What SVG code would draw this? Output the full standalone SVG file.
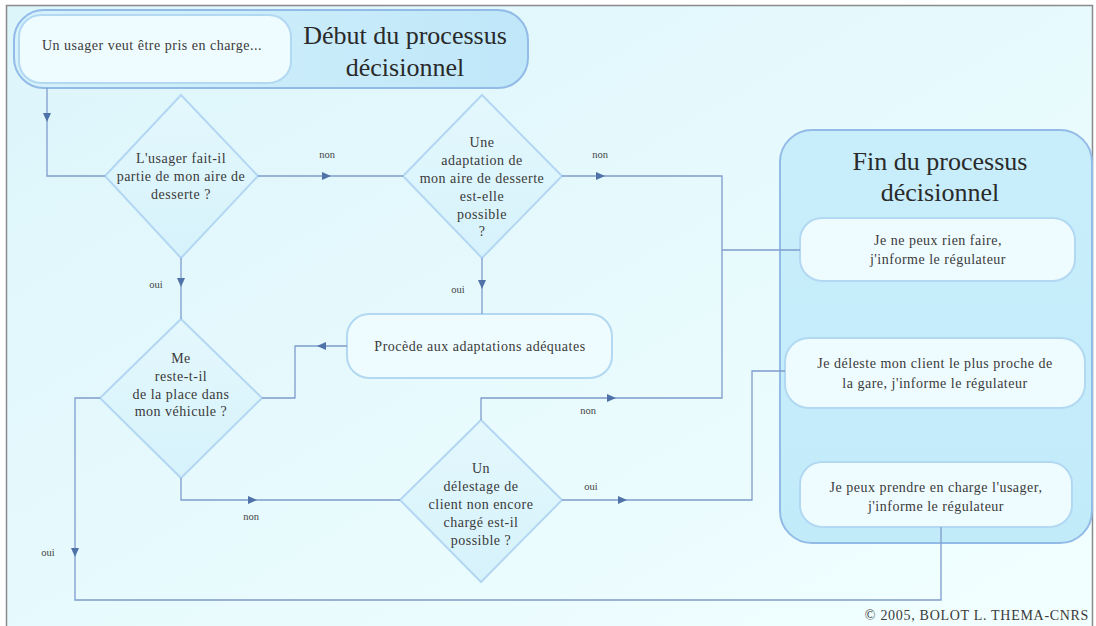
<svg xmlns="http://www.w3.org/2000/svg" width="1096" height="626" viewBox="0 0 1096 626">
  <defs>
    <linearGradient id="bg" x1="0" y1="0" x2="1" y2="1">
      <stop offset="0" stop-color="#dcf5fb"/>
      <stop offset="1" stop-color="#f2ffff"/>
    </linearGradient>
    <linearGradient id="panel" x1="0" y1="0" x2="1" y2="0">
      <stop offset="0" stop-color="#d6f2fb"/>
      <stop offset="1" stop-color="#bfe7f9"/>
    </linearGradient>
    <linearGradient id="panelV" x1="0" y1="0" x2="0" y2="1">
      <stop offset="0" stop-color="#c9eefb"/>
      <stop offset="1" stop-color="#c2ebfa"/>
    </linearGradient>
    <linearGradient id="diam" x1="0" y1="0" x2="0" y2="1">
      <stop offset="0" stop-color="#e4f8fd"/>
      <stop offset="1" stop-color="#d6f2fb"/>
    </linearGradient>
    <path id="arr" d="M-5,-4 L4,0 L-5,4 Z" fill="#4f73a8"/>
  </defs>
  <style>
    .t { font-family: "Liberation Serif", "DejaVu Serif", serif; fill: #3a3a3a; text-anchor: middle; }
    .title { font-size: 26px; fill: #2a2a2a; }
    .body { font-size: 14px; letter-spacing: 0.5px; }
    .lbl { font-size: 10.5px; fill: #444; }
    .conn { fill: none; stroke: #7f9ccc; stroke-width: 1.3; }
    .dia { fill: url(#diam); stroke: #b3d6f2; stroke-width: 2; }
    .box { fill: #effcff; stroke: #b2d8f2; stroke-width: 2; }
    .big { stroke: #93bbe8; stroke-width: 2; }
  </style>

  <!-- page and frame -->
  <rect x="0" y="0" width="1096" height="626" fill="#ffffff"/>
  <rect x="6.5" y="5.5" width="1086" height="630" fill="url(#bg)" stroke="#8a8a8a" stroke-width="1.5"/>

  <!-- start block -->
  <g id="start">
    <rect x="14" y="10" width="514" height="78" rx="30" class="big" fill="url(#panel)"/>
    <rect x="19" y="15" width="272" height="68" rx="22" class="box"/>
    <text class="t body" x="152" y="50">Un usager veut être pris en charge...</text>
    <text class="t title" x="405" y="44">Début du processus</text>
    <text class="t title" x="405" y="76">décisionnel</text>
  </g>

  <!-- end panel -->
  <g id="end">
    <rect x="780" y="130" width="312" height="413" rx="32" class="big" fill="url(#panelV)"/>
    <text class="t title" x="940" y="170">Fin du processus</text>
    <text class="t title" x="940" y="201">décisionnel</text>
  </g>

  <g id="end-nothing">
    <rect x="800" y="218" width="275" height="63" rx="22" class="box"/>
    <text class="t body" x="938" y="245">Je ne peux rien faire,</text>
    <text class="t body" x="938" y="264">j'informe le régulateur</text>
  </g>

  <g id="end-unload">
    <rect x="785" y="338" width="300" height="70" rx="24" class="box"/>
    <text class="t body" x="935" y="368">Je déleste mon client le plus proche de</text>
    <text class="t body" x="935" y="388">la gare, j'informe le régulateur</text>
  </g>

  <g id="end-accept">
    <rect x="800" y="462" width="272" height="65" rx="22" class="box"/>
    <text class="t body" x="936" y="492">Je peux prendre en charge l'usager,</text>
    <text class="t body" x="936" y="511">j'informe le régulateur</text>
  </g>

  <!-- decisions -->
  <g id="q-area">
    <polygon points="181,95 258,176 181,258 105,176" class="dia"/>
    <text class="t body" x="181" y="163">L'usager fait-il</text>
    <text class="t body" x="181" y="181">partie de mon aire de</text>
    <text class="t body" x="181" y="199">desserte ?</text>
  </g>

  <g id="q-adapt">
    <polygon points="482,95 562,176 482,258 403,176" class="dia"/>
    <text class="t body" x="482" y="147">Une</text>
    <text class="t body" x="482" y="165">adaptation de</text>
    <text class="t body" x="482" y="183">mon aire de desserte</text>
    <text class="t body" x="482" y="201">est-elle</text>
    <text class="t body" x="482" y="219">possible</text>
    <text class="t body" x="482" y="236">?</text>
  </g>

  <g id="adapt">
    <rect x="347" y="314" width="265" height="64" rx="22" class="box"/>
    <text class="t body" x="480" y="351">Procède aux adaptations adéquates</text>
  </g>

  <g id="q-room">
    <polygon points="181,319 262,398 181,478 100,398" class="dia"/>
    <text class="t body" x="181" y="363">Me</text>
    <text class="t body" x="181" y="381">reste-t-il</text>
    <text class="t body" x="181" y="399">de la place dans</text>
    <text class="t body" x="181" y="416">mon véhicule ?</text>
  </g>

  <g id="q-unload">
    <polygon points="481,420 562,500 481,582 400,500" class="dia"/>
    <text class="t body" x="481" y="473">Un</text>
    <text class="t body" x="481" y="491">délestage de</text>
    <text class="t body" x="481" y="509">client non encore</text>
    <text class="t body" x="481" y="527">chargé est-il</text>
    <text class="t body" x="481" y="545">possible ?</text>
  </g>

  <!-- connectors -->
  <g id="connectors">
    <path class="conn" d="M47,88 V176 H105"/>
    <path class="conn" d="M258,176 H403"/>
    <path class="conn" d="M562,176 H722 V398 H481 V420"/>
    <path class="conn" d="M722,250 H800"/>
    <path class="conn" d="M482,258 V314"/>
    <path class="conn" d="M181,258 V319"/>
    <path class="conn" d="M347,346 H295 V398 H262"/>
    <path class="conn" d="M181,478 V500 H400"/>
    <path class="conn" d="M562,500 H752 V371 H785"/>
    <path class="conn" d="M100,398 H75 V600 H941 V527"/>

    <use href="#arr" transform="translate(47,118) rotate(90)"/>
    <use href="#arr" transform="translate(327,176)"/>
    <use href="#arr" transform="translate(601,176)"/>
    <use href="#arr" transform="translate(482,285) rotate(90)"/>
    <use href="#arr" transform="translate(181,283) rotate(90)"/>
    <use href="#arr" transform="translate(321,346) rotate(180)"/>
    <use href="#arr" transform="translate(612,398)"/>
    <use href="#arr" transform="translate(253,500)"/>
    <use href="#arr" transform="translate(623,500)"/>
    <use href="#arr" transform="translate(75,553) rotate(90)"/>

    <text class="t lbl" x="327" y="158">non</text>
    <text class="t lbl" x="600" y="158">non</text>
    <text class="t lbl" x="458" y="293">oui</text>
    <text class="t lbl" x="156" y="288">oui</text>
    <text class="t lbl" x="588" y="414">non</text>
    <text class="t lbl" x="251" y="520">non</text>
    <text class="t lbl" x="591" y="490">oui</text>
    <text class="t lbl" x="48" y="556">oui</text>
  </g>

  <text class="t" x="977" y="620" style="font-size:14px; letter-spacing:0.7px">© 2005, BOLOT L. THEMA-CNRS</text>
</svg>
